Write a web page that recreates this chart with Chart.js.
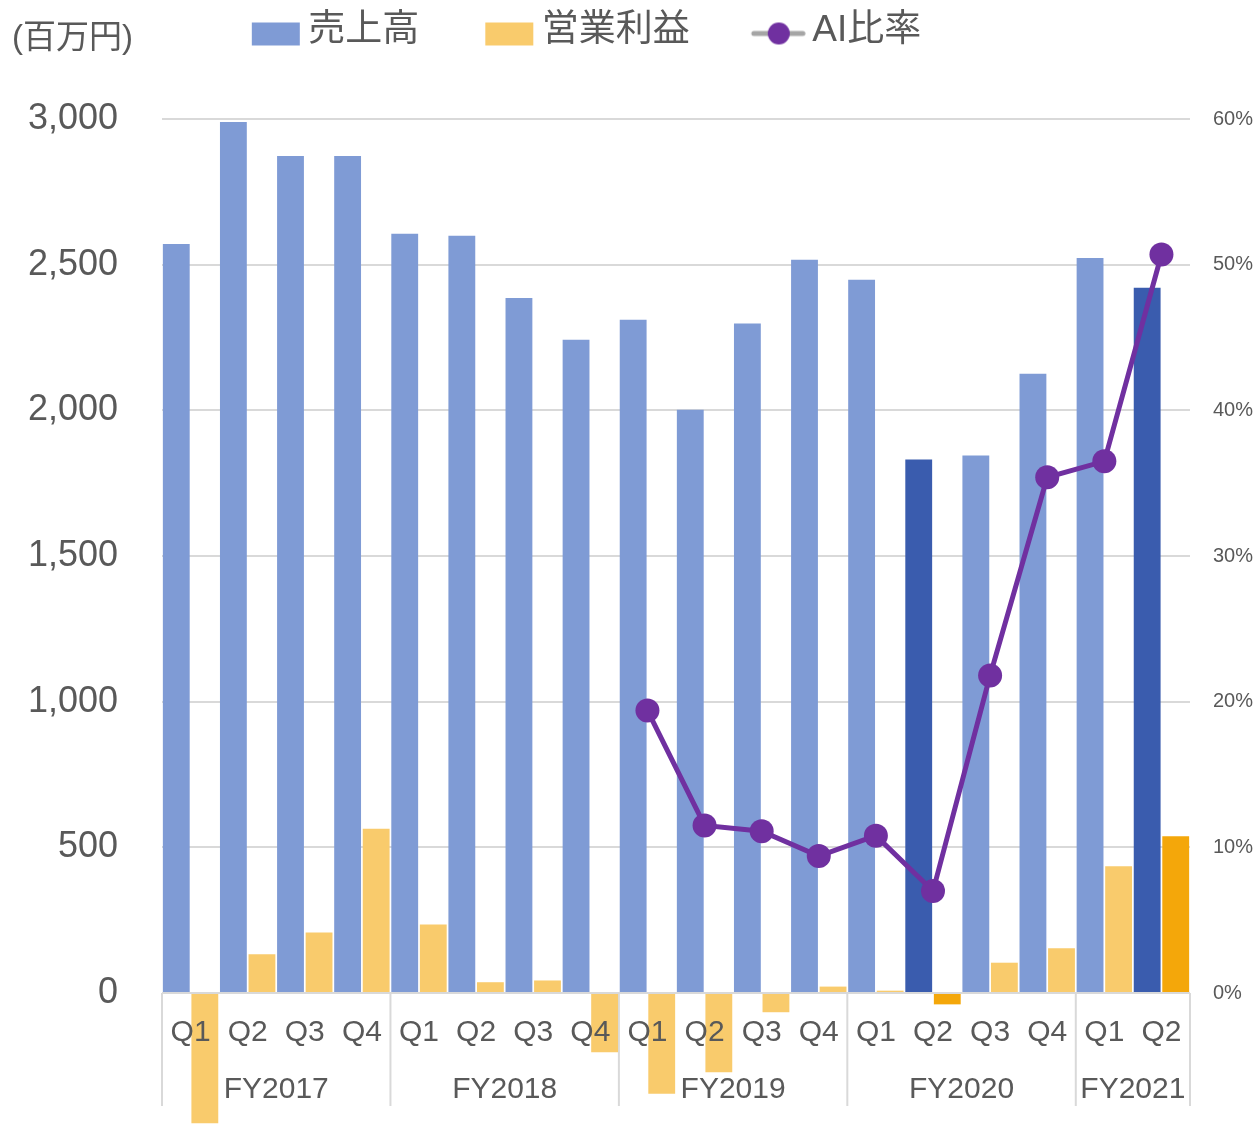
<!DOCTYPE html>
<html lang="ja">
<head>
<meta charset="utf-8">
<title>売上高・営業利益・AI比率</title>
<script src="https://cdn.jsdelivr.net/npm/chart.js@4.4.0/dist/chart.umd.min.js"></script>
<style>
  html, body { margin: 0; padding: 0; background: #fff; }
</style>
</head>
<body>
<canvas id="myChart" width="1257" height="1132"></canvas>
<script>
// data
var quarters = ["Q1", "Q2", "Q3", "Q4", "Q1", "Q2", "Q3", "Q4", "Q1", "Q2", "Q3", "Q4",
                "Q1", "Q2", "Q3", "Q4", "Q1", "Q2"];
var fiscalYears = ["FY2017", "FY2018", "FY2019", "FY2020", "FY2021"];
var yearOfQuarter = [0, 0, 0, 0, 1, 1, 1, 1, 2, 2, 2, 2, 3, 3, 3, 3, 4, 4];
var sales = [2571, 2990, 2873, 2873, 2606, 2599, 2386, 2242, 2311, 2002, 2298, 2517,
             2448, 1831, 1845, 2126, 2523, 2421];
var profit = [-447, 133, 208, 564, 235, 37, 43, -203, -346, -272, -66, 22,
              8, -39, 104, 154, 435, 538];
var aiRatio = [null, null, null, null, null, null, null, null, 19.4, 11.5, 11.1, 9.4,
               10.8, 7.0, 21.8, 35.4, 36.5, 50.7];
var highlighted = [13, 17];
var seriesNames = ["売上高", "営業利益", "AI比率"];
var unitLabel = "(百万円)";

var textGray = "#595959";
var gridGray = "#D9D9D9";
var fontFamily = "'Liberation Sans', 'Noto Sans CJK JP', sans-serif";

Chart.defaults.font.family = fontFamily;
Chart.defaults.color = textGray;

var salesColors = sales.map(function (v, i) {
  return highlighted.indexOf(i) >= 0 ? "#3A5CAE" : "#7F9BD5";
});
var profitColors = profit.map(function (v, i) {
  return highlighted.indexOf(i) >= 0 ? "#F4A70A" : "#F9CB6C";
});

// legend icons (box sits at the right end so the text gap stays tight)
function legendIcon(kind, color) {
  var c = document.createElement("canvas");
  c.width = 116;
  c.height = 32;
  var g = c.getContext("2d");
  if (kind === "rect") {
    g.fillStyle = color;
    g.fillRect(66, 8, 48, 23);
  } else {
    g.strokeStyle = "#A5A5A5";
    g.lineWidth = 5;
    g.lineCap = "round";
    g.beginPath();
    g.moveTo(64, 19);
    g.lineTo(113, 19);
    g.stroke();
    g.fillStyle = color;
    g.beginPath();
    g.arc(89, 19, 11, 0, Math.PI * 2);
    g.fill();
  }
  return c;
}
var icons = [legendIcon("rect", "#7F9BD5"), legendIcon("rect", "#F9CB6C"), legendIcon("line", "#7030A0")];

var legendShift = 69;

var layoutFix = {
  id: "layoutFix",
  beforeInit: function (chart) {
    var fit = chart.legend.fit;
    chart.legend.fit = function () {
      fit.call(this);
      this.height = 119;
    };
  },
  afterLayout: function (chart) {
    chart.legend.left -= legendShift;
    chart.legend.right -= legendShift;
  }
};

// FY group labels + separators under the quarter labels
var fyGroups = {
  id: "fyGroups",
  beforeDatasetsDraw: function (chart) {
    var x = chart.scales.x, area = chart.chartArea, ctx = chart.ctx;
    var half = (x.getPixelForValue(1) - x.getPixelForValue(0)) / 2;
    ctx.save();
    ctx.strokeStyle = gridGray;
    ctx.lineWidth = 2;
    ctx.fillStyle = textGray;
    ctx.font = "30px " + fontFamily;
    ctx.textAlign = "center";
    ctx.textBaseline = "middle";
    fiscalYears.forEach(function (fy, g) {
      var idx = [];
      yearOfQuarter.forEach(function (y, i) { if (y === g) idx.push(i); });
      var l = x.getPixelForValue(idx[0]) - half;
      var r = x.getPixelForValue(idx[idx.length - 1]) + half;
      ctx.beginPath();
      ctx.moveTo(l, area.bottom);
      ctx.lineTo(l, area.bottom + 113);
      if (g === fiscalYears.length - 1) {
        ctx.moveTo(r, area.bottom);
        ctx.lineTo(r, area.bottom + 113);
      }
      ctx.stroke();
      ctx.fillText(fy, (l + r) / 2, area.bottom + 97);
    });
    ctx.restore();
  },
  afterDraw: function (chart) {
    var ctx = chart.ctx;
    ctx.save();
    ctx.fillStyle = textGray;
    ctx.font = "33px " + fontFamily;
    ctx.textAlign = "left";
    ctx.textBaseline = "middle";
    ctx.fillText(unitLabel, 12, 39);
    ctx.restore();
  }
};

new Chart("myChart", {
  type: "bar",
  data: {
    labels: quarters,
    datasets: [{
      label: seriesNames[0],
      data: sales,
      backgroundColor: salesColors,
      yAxisID: "y",
      order: 1,
      clip: false,
      categoryPercentage: 1.0,
      barPercentage: 0.94
    }, {
      label: seriesNames[1],
      data: profit,
      backgroundColor: profitColors,
      yAxisID: "y",
      order: 1,
      clip: false,
      categoryPercentage: 1.0,
      barPercentage: 0.94
    }, {
      type: "line",
      label: seriesNames[2],
      data: aiRatio,
      yAxisID: "y1",
      order: 0,
      borderColor: "#7030A0",
      backgroundColor: "#7030A0",
      borderWidth: 5,
      pointRadius: 12,
      pointBorderWidth: 0,
      pointBackgroundColor: "#7030A0",
      tension: 0
    }]
  },
  options: {
    responsive: false,
    animation: false,
    layout: { padding: 0 },
    plugins: {
      tooltip: { enabled: false },
      legend: {
        position: "top",
        labels: {
          usePointStyle: true,
          pointStyleWidth: 92,
          boxHeight: 24,
          padding: 12,
          color: textGray,
          font: { size: 37 },
          generateLabels: function (chart) {
            return chart.data.datasets.map(function (ds, i) {
              return {
                text: ds.label,
                pointStyle: icons[i],
                fillStyle: "transparent",
                strokeStyle: "transparent",
                lineWidth: 0,
                hidden: false,
                fontColor: textGray,
                datasetIndex: i
              };
            });
          }
        }
      }
    },
    scales: {
      x: {
        offset: true,
        grid: { display: false },
        border: { display: false },
        ticks: { z: 1, autoSkip: false, maxRotation: 0, padding: 14, font: { size: 30 }, color: textGray },
        afterFit: function (s) { s.height = 139; }
      },
      y: {
        position: "left",
        min: 0,
        max: 3000,
        grid: { color: gridGray, lineWidth: 2, drawTicks: false },
        border: { display: false },
        ticks: {
          stepSize: 500,
          padding: 44,
          font: { size: 36 },
          color: textGray,
          callback: function (v) { return v.toLocaleString("en-US"); }
        },
        afterFit: function (s) { s.width = 162; }
      },
      y1: {
        position: "right",
        min: 0,
        max: 60,
        grid: { display: false, drawTicks: false },
        border: { display: false },
        ticks: {
          stepSize: 10,
          padding: 23,
          font: { size: 20 },
          color: textGray,
          callback: function (v) { return v + "%"; }
        },
        afterFit: function (s) { s.width = 67; }
      }
    }
  },
  plugins: [layoutFix, fyGroups]
});
</script>
</body>
</html>
